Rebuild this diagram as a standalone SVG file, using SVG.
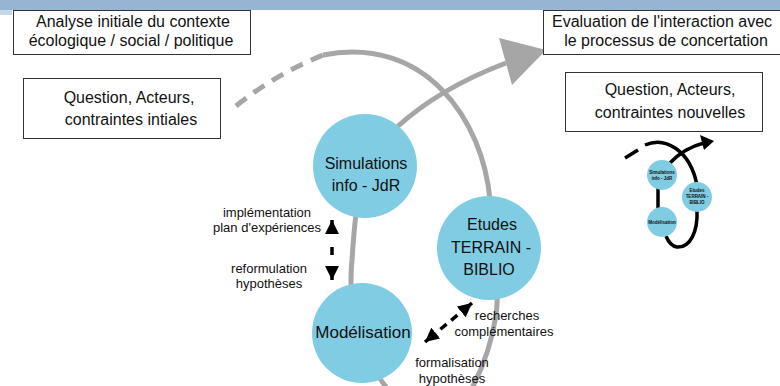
<svg xmlns="http://www.w3.org/2000/svg" width="780" height="386" viewBox="0 0 780 386">
<defs>
<style>
.t{font-family:"Liberation Sans",Arial,sans-serif;fill:#111;text-anchor:middle}
.box{fill:#fff;stroke:#333;stroke-width:1}
.node{fill:#80cce2}
.g{fill:none;stroke:#a6a6a6;stroke-width:5}
.k{fill:none;stroke:#000;stroke-width:3.5}
</style>
<marker id="ah" viewBox="0 0 10 10" refX="10" refY="5" markerUnits="userSpaceOnUse" markerWidth="14" markerHeight="15" orient="auto-start-reverse">
<path d="M0,0 L10,5 L0,10 z" fill="#000"/>
</marker>
</defs>
<rect width="780" height="386" fill="#fff"/>
<rect x="0" y="0" width="780" height="10" fill="#97b5d2"/>
<rect x="0" y="10" width="12" height="5" fill="#c6d6e7"/>

<g id="connectors">
<path class="g" d="M236,106 Q276,74 323,55" stroke-dasharray="13,9"/>
<path class="g" d="M323,55 C425,35 483,120 490,200 C494,240 500,285 496,315 Q490,355 470,392"/>
<path class="g" d="M390,392 C355,350 348,300 352,260 C354,230 356,200 365,170"/>
<path class="g" d="M397,127 Q440,88 506,63"/>
<polygon points="499,38 546,50 512,85" fill="#a6a6a6"/>
<path class="k" d="M332,220 L332,280" stroke-dasharray="14 13 8 11 14 100" marker-start="url(#ah)" marker-end="url(#ah)"/>
<path class="k" d="M425,342 L472,303" stroke-dasharray="14 6 8 6 8 6 14 100" marker-start="url(#ah)" marker-end="url(#ah)"/>
</g>

<g id="box-analyse">
<rect class="box" x="13.5" y="10.5" width="237" height="44"/>
<text class="t" x="133" y="27" font-size="16">Analyse initiale du contexte</text>
<text class="t" x="131" y="46" font-size="16">écologique / social / politique</text>
</g>
<g id="box-evaluation">
<rect class="box" x="543.5" y="10.5" width="240" height="44"/>
<text class="t" x="662" y="27" font-size="16">Evaluation de l'interaction avec</text>
<text class="t" x="666" y="46" font-size="16">le processus de concertation</text>
</g>
<g id="box-initiales">
<rect class="box" x="23.5" y="78.5" width="197" height="60"/>
<text class="t" x="129" y="103" font-size="16">Question, Acteurs,</text>
<text class="t" x="131" y="125" font-size="16">contraintes intiales</text>
</g>
<g id="box-nouvelles">
<rect class="box" x="565.5" y="72.5" width="197" height="59"/>
<text class="t" x="670" y="95" font-size="16">Question, Acteurs,</text>
<text class="t" x="670" y="118" font-size="16">contraintes nouvelles</text>
</g>

<g id="node-simulations">
<circle class="node" cx="365" cy="166" r="52"/>
<text class="t" x="366" y="169" font-size="16">Simulations</text>
<text class="t" x="366" y="191" font-size="16">info - JdR</text>
</g>
<g id="node-modelisation">
<circle class="node" cx="362" cy="333" r="50"/>
<text class="t" x="363" y="338" font-size="17">Modélisation</text>
</g>
<g id="node-etudes">
<circle class="node" cx="489" cy="248" r="52"/>
<text class="t" x="492" y="230" font-size="16">Etudes</text>
<text class="t" x="491" y="253" font-size="16">TERRAIN -</text>
<text class="t" x="489" y="275" font-size="16">BIBLIO</text>
</g>

<g id="labels">
<text class="t" x="267" y="217" font-size="13">implémentation</text>
<text class="t" x="267" y="232" font-size="13">plan d'expériences</text>
<text class="t" x="269" y="273" font-size="13">reformulation</text>
<text class="t" x="269" y="288" font-size="13">hypothèses</text>
<text class="t" x="507" y="320" font-size="13">recherches</text>
<text class="t" x="504" y="336" font-size="13">complémentaires</text>
<text class="t" x="452" y="367" font-size="13">formalisation</text>
<text class="t" x="452" y="383" font-size="13">hypothèses</text>
</g>

<g id="mini">
<g id="mini-connectors">
<path class="k" d="M625,158 L638,150"/>
<path class="k" d="M645,145 C665,136 690,150 697,185 L697,210 C698,232 690,248 677,247 C671,246 668,241 666,236"/>
<path class="k" d="M658,178 L658,218"/>
<path class="k" d="M670,163 Q684,148 704,143"/>
<polygon points="700,135 714,141 704,150" fill="#000"/>
</g>
<g id="mini-simulations">
<circle class="node" cx="662" cy="175" r="15"/>
<text class="t" x="662" y="174" font-size="4.5" font-weight="bold">Simulations</text>
<text class="t" x="662" y="180" font-size="4.5" font-weight="bold">info - JdR</text>
</g>
<g id="mini-etudes">
<circle class="node" cx="697" cy="197" r="15"/>
<text class="t" x="697" y="192" font-size="4.5" font-weight="bold">Etudes</text>
<text class="t" x="697" y="198" font-size="4.5" font-weight="bold">TERRAIN -</text>
<text class="t" x="697" y="204" font-size="4.5" font-weight="bold">BIBLIO</text>
</g>
<g id="mini-modelisation">
<circle class="node" cx="662" cy="222" r="15"/>
<text class="t" x="662" y="223.5" font-size="4.5" font-weight="bold">Modélisation</text>
</g>
</g>
</svg>
